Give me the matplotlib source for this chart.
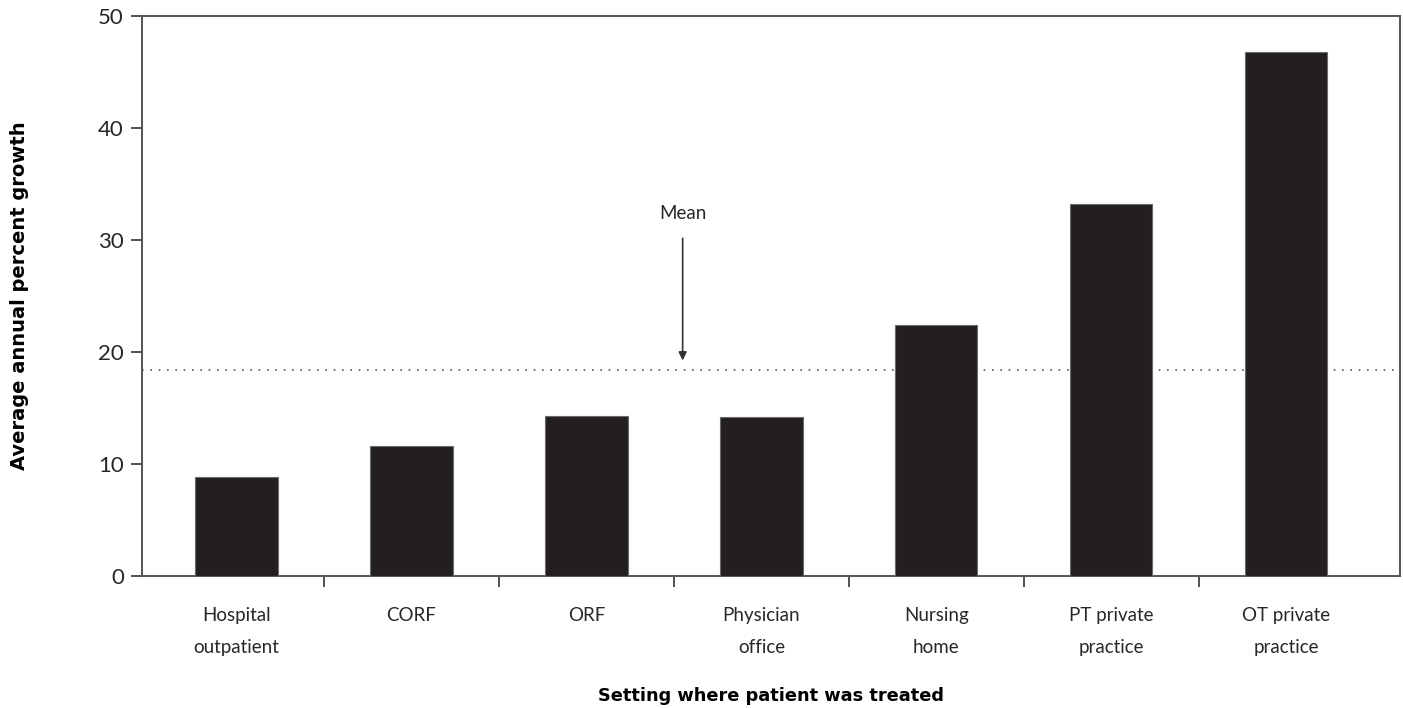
import matplotlib.pyplot as plt

# Datos
categorias = ['Hospital\noutpatient', 'CORF', 'ORF', 'Physician\noffice',
              'Nursing\nhome', 'PT private\npractice', 'OT private\npractice']
crecimiento = [8.8, 11.6, 14.3, 14.2, 22.4, 33.2, 46.8]
media = 18.4
y_ticks = [0, 10, 20, 30, 40, 50]

plt.rcParams['font.family'] = ['Lato', 'DejaVu Sans']
texto = '#2a2627'

fig = plt.figure(figsize=(14.03, 7.08), dpi=100)
ax = fig.add_axes([0.1012, 0.1864, 0.8967, 0.791])

x = list(range(len(categorias)))
ax.bar(x, crecimiento, width=0.47, color='#231f20', edgecolor='#6a6a6a', linewidth=0.8, zorder=3)

# Linea de la media
ax.axhline(media, color='#555555', linestyle=(0, (1, 4)), linewidth=1.2, zorder=2)
ax.annotate('', xy=(2.55, media + 0.6), xytext=(2.55, 30.4),
            arrowprops=dict(arrowstyle='-|>', color='#333333', lw=1.2, mutation_scale=12))
ax.text(2.55, 31.6, 'Mean', ha='center', va='bottom', fontsize=13.5, color=texto)

ax.set_xlim(-0.54, 6.65)
ax.set_ylim(0, 50)
ax.set_yticks(y_ticks)
ax.set_yticklabels([str(t) for t in y_ticks], fontsize=16, color=texto)

# Ticks del eje x en los limites entre categorias, etiquetas centradas
ax.set_xticks([i + 0.5 for i in range(len(categorias) - 1)])
ax.set_xticklabels([])
ax.set_xticks(x, minor=True)
ax.set_xticklabels(categorias, minor=True, fontsize=13.5, color=texto, linespacing=2.1)
ax.tick_params(axis='x', which='minor', length=0, pad=22)
ax.tick_params(axis='x', which='major', length=8, width=1.3, color='#444444')
ax.tick_params(axis='y', length=8, width=1.3, color='#444444', pad=5)

for s in ax.spines.values():
    s.set_color('#555555')
    s.set_linewidth(1.4)

ax.set_ylabel('Average annual percent growth', fontsize=14, fontweight='bold',
              family='DejaVu Sans', labelpad=50)
ax.set_xlabel('Setting where patient was treated', fontsize=12.8, fontweight='bold',
              family='DejaVu Sans', labelpad=22)

plt.savefig('out.png', dpi=100)
